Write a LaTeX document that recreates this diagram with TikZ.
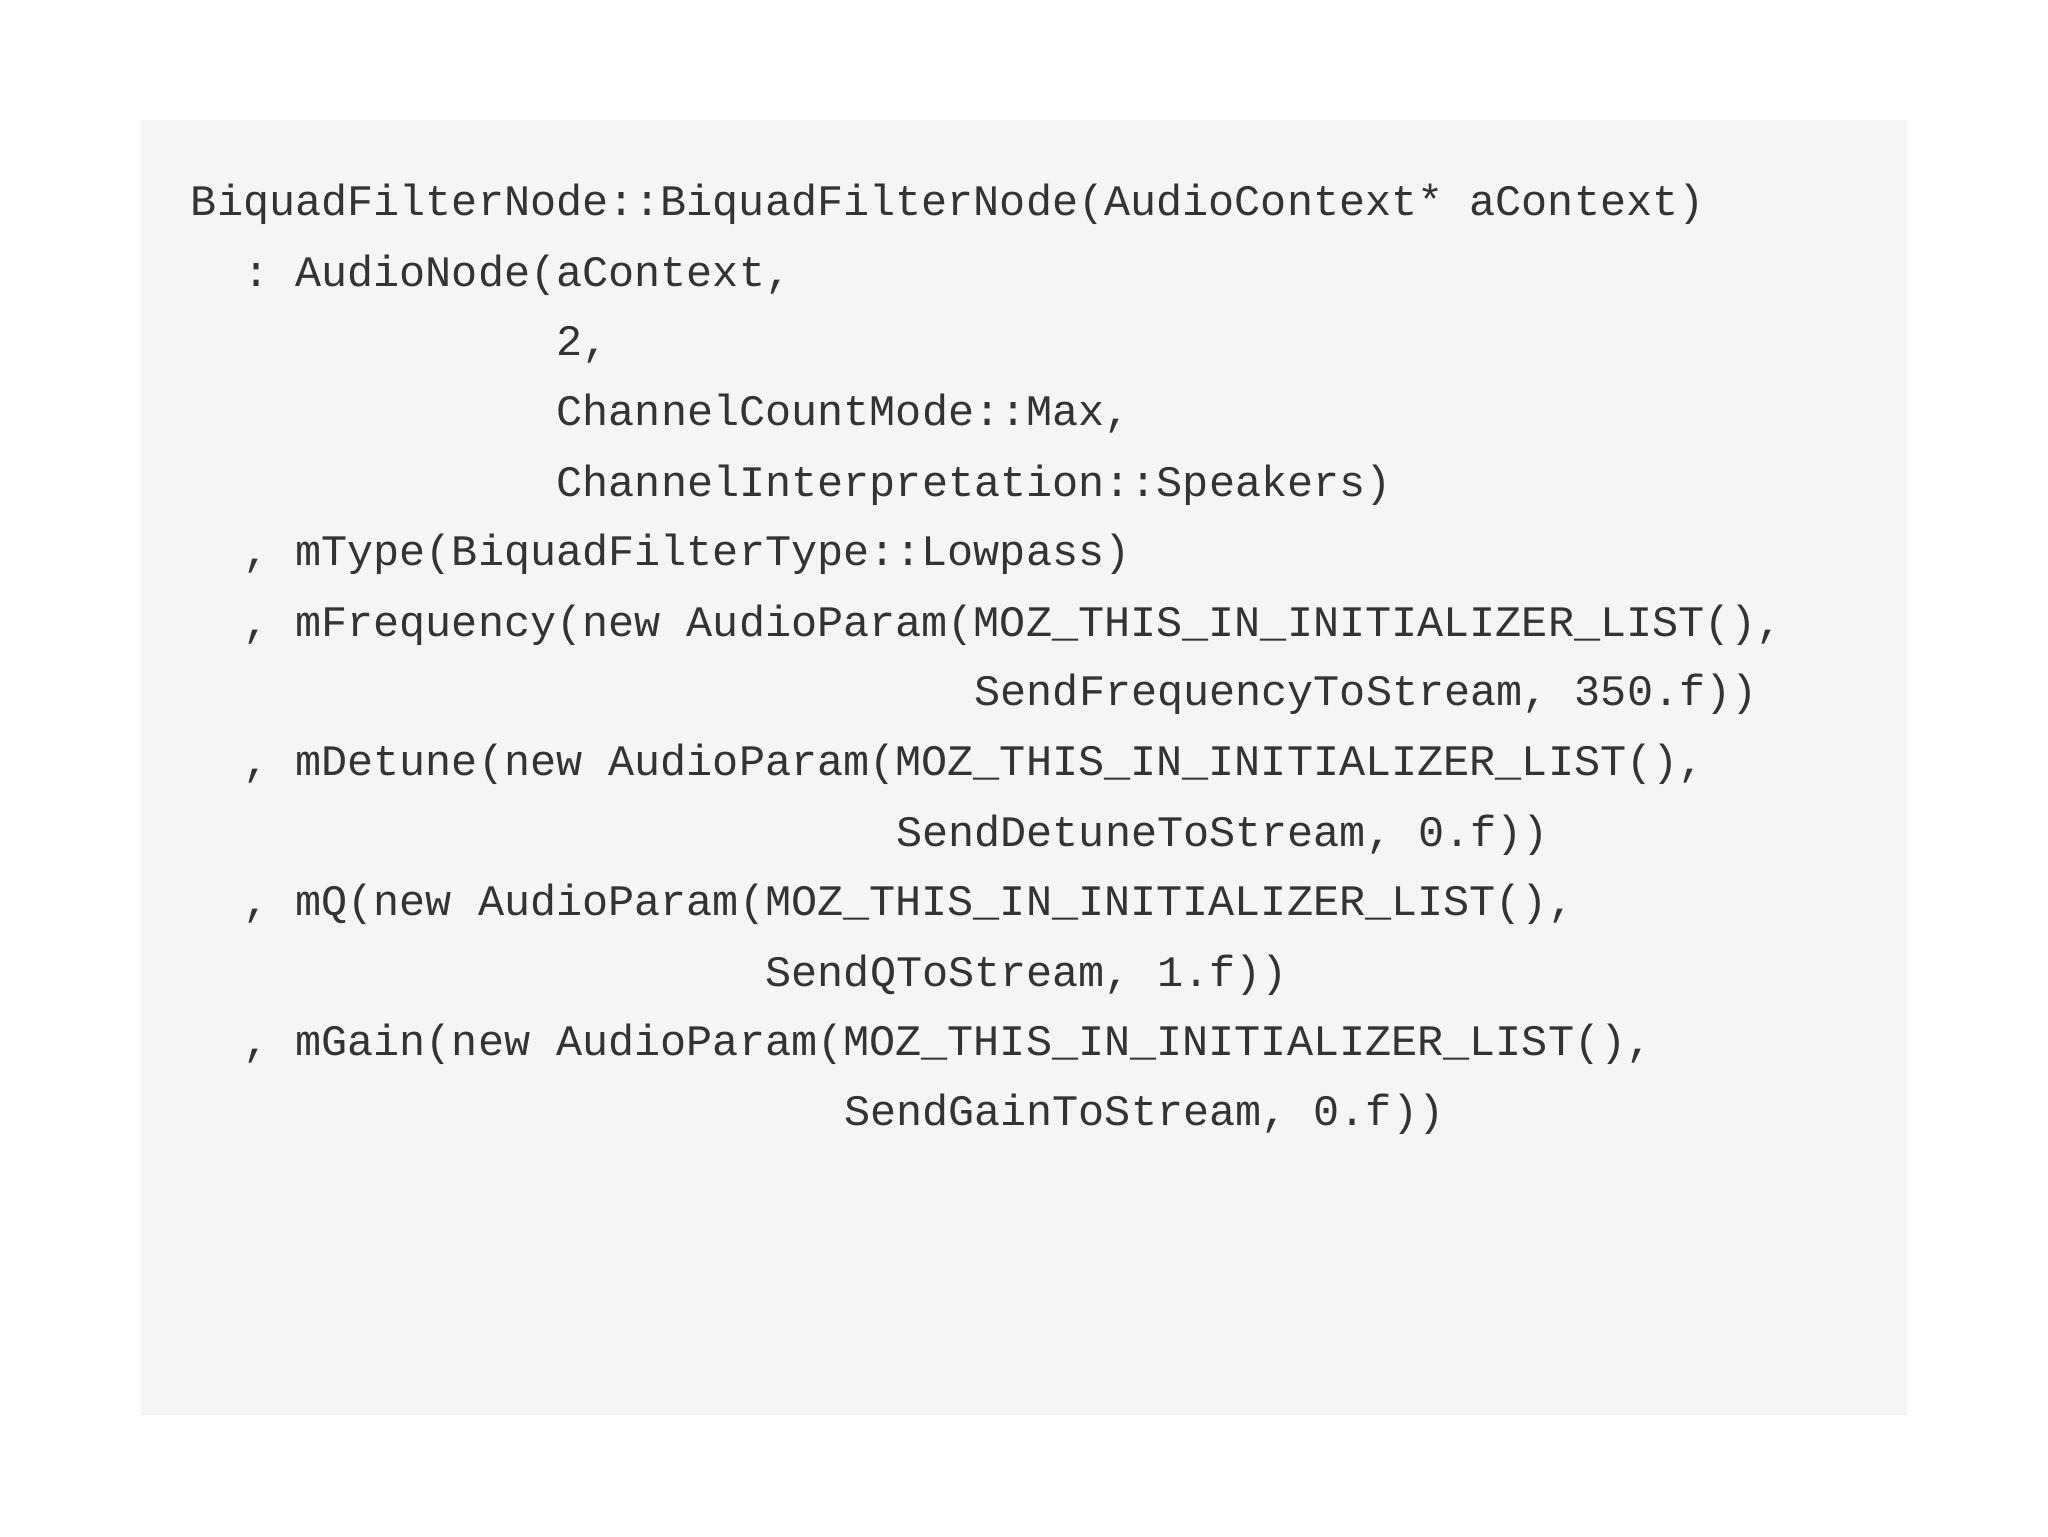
\documentclass[tikz,border=0pt]{standalone}
\usepackage{fontspec}
\setmonofont{Liberation Mono}
\definecolor{bg}{HTML}{F5F5F5}
\definecolor{tx}{HTML}{333333}
\begin{document}
\begin{tikzpicture}[x=1pt,y=1pt,
  code/.style={anchor=base west,inner sep=0pt,text=tx,font=\ttfamily\fontsize{33.3}{40}\selectfont}]
\useasboundingbox (0,0) rectangle (1568,-1176);
\fill[bg] (108,-92) rectangle (1460,-1083);
\node[code] (l1) at (146+20*0,-165) {BiquadFilterNode::BiquadFilterNode(AudioContext* aContext)};
\node[code] (l2) at (146+20*2,-219) {: AudioNode(aContext,};
\node[code] (l3) at (146+20*14,-272) {2,};
\node[code] (l4) at (146+20*14,-326) {ChannelCountMode::Max,};
\node[code] (l5) at (146+20*14,-380) {ChannelInterpretation::Speakers)};
\node[code] (l6) at (146+20*2,-433) {, mType(BiquadFilterType::Lowpass)};
\node[code] (l7) at (146+20*2,-487) {, mFrequency(new AudioParam(MOZ\_THIS\_IN\_INITIALIZER\_LIST(),};
\node[code] (l8) at (146+20*30,-540) {SendFrequencyToStream, 350.f))};
\node[code] (l9) at (146+20*2,-594) {, mDetune(new AudioParam(MOZ\_THIS\_IN\_INITIALIZER\_LIST(),};
\node[code] (l10) at (146+20*27,-648) {SendDetuneToStream, 0.f))};
\node[code] (l11) at (146+20*2,-701) {, mQ(new AudioParam(MOZ\_THIS\_IN\_INITIALIZER\_LIST(),};
\node[code] (l12) at (146+20*22,-755) {SendQToStream, 1.f))};
\node[code] (l13) at (146+20*2,-808) {, mGain(new AudioParam(MOZ\_THIS\_IN\_INITIALIZER\_LIST(),};
\node[code] (l14) at (146+20*25,-862) {SendGainToStream, 0.f))};
\end{tikzpicture}
\end{document}
